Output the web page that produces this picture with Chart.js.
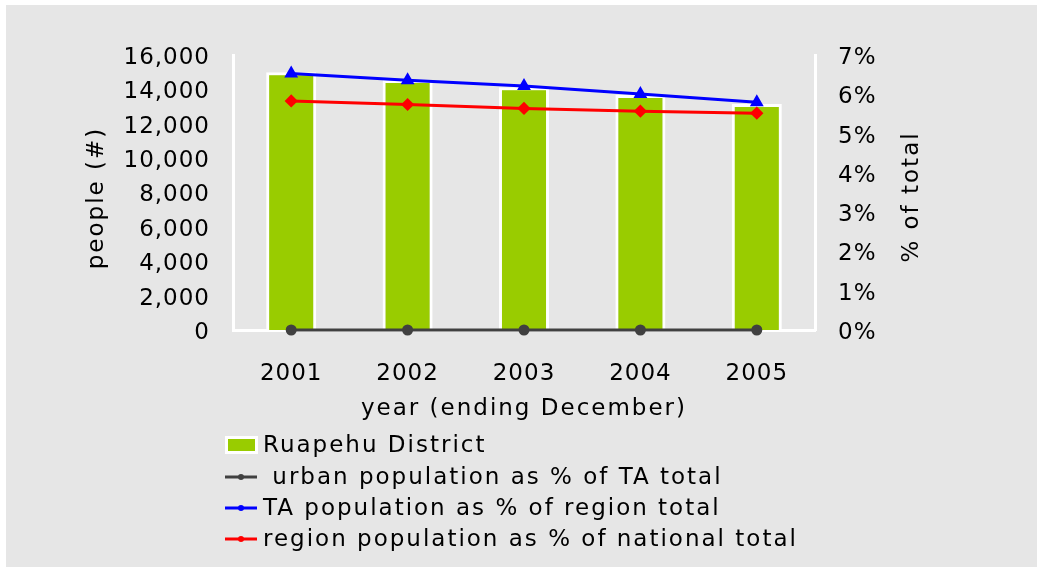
<!DOCTYPE html>
<html>
<head>
<meta charset="utf-8">
<script src="https://cdn.jsdelivr.net/npm/chart.js@4"></script>
<style>
  html, body { margin: 0; padding: 0; background: #ffffff; }
  #wrap { position: absolute; left: 0; top: 0; width: 1037px; height: 567px; }
</style>
</head>
<body>
<div id="wrap"><canvas id="chart" width="1037" height="567"></canvas></div>
<script>
const years = ["2001", "2002", "2003", "2004", "2005"];
const people = [14990, 14550, 14120, 13670, 13150]; // Ruapehu District
const urbanPct = [0, 0, 0, 0, 0];
const taPct = [0.0653, 0.0636, 0.0621, 0.0601, 0.0580];
const regionPct = [0.0583, 0.0574, 0.0564, 0.0557, 0.0552];

const xTitle = "year (ending December)";
const yTitle = "people (#)";
const y1Title = "% of total";

const FONT = "'DejaVu Sans', Verdana, sans-serif";
const TICK_SPACING = "1px";
const TEXT_SPACING = "2px";

// grey panel behind everything, white edge top/left like the original
const background = {
  id: "background",
  beforeUpdate(chart) { chart.ctx.letterSpacing = TICK_SPACING; },
  beforeDraw(chart) {
    const ctx = chart.ctx;
    ctx.letterSpacing = TICK_SPACING;
    ctx.save();
    ctx.fillStyle = "#ffffff";
    ctx.fillRect(0, 0, chart.width, chart.height);
    ctx.fillStyle = "#e6e6e6";
    ctx.fillRect(6, 5, chart.width - 6, chart.height - 5);
    ctx.restore();
  },
};

function rotatedText(ctx, text, x, y) {
  ctx.save();
  ctx.translate(x, y);
  ctx.rotate(-Math.PI / 2);
  ctx.textAlign = "center";
  ctx.fillText(text, 0, 0);
  ctx.restore();
}

// axis titles (right one reads bottom-to-top) and a one-item-per-row legend
const extras = {
  id: "extras",
  afterDraw(chart) {
    const ctx = chart.ctx;
    const area = chart.chartArea;
    ctx.save();
    ctx.letterSpacing = TEXT_SPACING;
    ctx.font = "23px " + FONT;
    ctx.fillStyle = "#000";
    ctx.textBaseline = "middle";

    ctx.textAlign = "center";
    ctx.fillText(xTitle, (area.left + area.right) / 2, 409);
    rotatedText(ctx, yTitle, 97, 198);
    rotatedText(ctx, y1Title, 912, 197);

    const rowY = [445, 477, 508, 539];
    ctx.textAlign = "left";
    chart.data.datasets.forEach((ds, i) => {
      const y = rowY[i];
      if (ds.type === "bar") {
        ctx.fillStyle = "#ffffff";
        ctx.fillRect(225, y - 9, 33, 18);
        ctx.fillStyle = ds.backgroundColor;
        ctx.fillRect(228, y - 6, 27, 12);
      } else {
        ctx.strokeStyle = ds.borderColor;
        ctx.lineWidth = 3;
        ctx.beginPath();
        ctx.moveTo(225, y);
        ctx.lineTo(257, y);
        ctx.stroke();
        ctx.fillStyle = ds.borderColor;
        ctx.beginPath();
        ctx.arc(241, y, 3, 0, Math.PI * 2);
        ctx.fill();
      }
      ctx.fillStyle = "#000";
      ctx.fillText(ds.label, 263, y + 1);
    });
    ctx.restore();
  },
};

new Chart(document.getElementById("chart"), {
  data: {
    labels: years,
    datasets: [
      {
        type: "bar",
        label: "Ruapehu District",
        data: people,
        yAxisID: "y",
        backgroundColor: "#9c0",
        borderColor: "#ffffff",
        borderWidth: 3,
        barPercentage: 0.43,
        categoryPercentage: 1,
        order: 2,
      },
      {
        type: "line",
        label: " urban population as % of TA total",
        data: urbanPct,
        yAxisID: "y1",
        borderColor: "#404040",
        backgroundColor: "#404040",
        borderWidth: 3,
        pointStyle: "circle",
        pointRadius: 4,
        clip: false,
        order: 1,
      },
      {
        type: "line",
        label: "TA population as % of region total",
        data: taPct,
        yAxisID: "y1",
        borderColor: "#0000ff",
        backgroundColor: "#0000ff",
        borderWidth: 3,
        pointStyle: "triangle",
        pointRadius: 5,
        clip: false,
        order: 1,
      },
      {
        type: "line",
        label: "region population as % of national total",
        data: regionPct,
        yAxisID: "y1",
        borderColor: "#ff0000",
        backgroundColor: "#ff0000",
        borderWidth: 3,
        pointStyle: "rectRot",
        pointRadius: 4.5,
        clip: false,
        order: 1,
      },
    ],
  },
  options: {
    responsive: false,
    animation: false,
    layout: { padding: { left: 70, right: 100, top: 55, bottom: 142 } },
    plugins: {
      legend: { display: false },
      tooltip: { enabled: false },
    },
    scales: {
      x: {
        grid: { display: false },
        border: { display: true, color: "#ffffff", width: 3 },
        ticks: { color: "#000", font: { family: FONT, size: 23 }, padding: 22 },
        afterFit(scale) { scale.height = 95; },
      },
      y: {
        position: "left",
        min: 0,
        max: 16000,
        grid: { display: false },
        border: { display: true, color: "#ffffff", width: 3 },
        ticks: {
          stepSize: 2000,
          color: "#000",
          font: { family: FONT, size: 23 },
          padding: 15,
          labelOffset: 3,
          callback: (v) => v.toLocaleString("en-US"),
        },
        afterFit(scale) { scale.width = 233 - 70; },
      },
      y1: {
        position: "right",
        min: 0,
        max: 0.07,
        grid: { display: false },
        border: { display: true, color: "#ffffff", width: 3 },
        ticks: {
          stepSize: 0.01,
          color: "#000",
          font: { family: FONT, size: 23 },
          padding: 15,
          labelOffset: 3,
          callback: (v) => Math.round(v * 100) + "%",
        },
        afterFit(scale) { scale.width = 1037 - 100 - 815; },
      },
    },
  },
  plugins: [background, extras],
});
</script>
</body>
</html>
